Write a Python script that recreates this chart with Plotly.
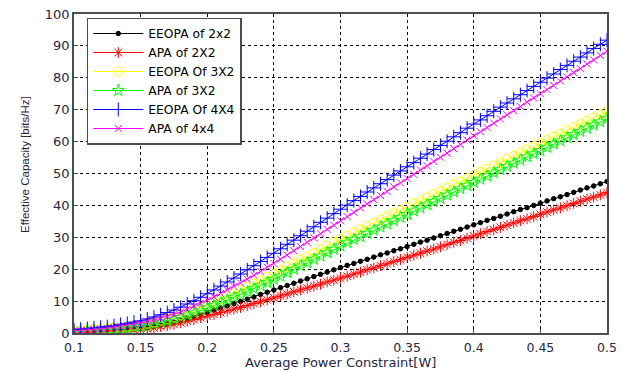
import plotly.graph_objects as go

power_w = [0.1, 0.105, 0.11, 0.115, 0.12, 0.125, 0.13, 0.135, 0.14, 0.145,
           0.15, 0.155, 0.16, 0.165, 0.17, 0.175, 0.18, 0.185, 0.19, 0.195,
           0.2, 0.205, 0.21, 0.215, 0.22, 0.225, 0.23, 0.235, 0.24, 0.245,
           0.25, 0.255, 0.26, 0.265, 0.27, 0.275, 0.28, 0.285, 0.29, 0.295,
           0.3, 0.305, 0.31, 0.315, 0.32, 0.325, 0.33, 0.335, 0.34, 0.345,
           0.35, 0.355, 0.36, 0.365, 0.37, 0.375, 0.38, 0.385, 0.39, 0.395,
           0.4, 0.405, 0.41, 0.415, 0.42, 0.425, 0.43, 0.435, 0.44, 0.445,
           0.45, 0.455, 0.46, 0.465, 0.47, 0.475, 0.48, 0.485, 0.49, 0.495,
           0.5]

eeopa_2x2 = [0.3, 0.4, 0.5, 0.5, 0.6, 0.7, 0.8, 1.0, 1.1, 1.3,
             1.4, 1.7, 2.1, 2.5, 2.9, 3.3, 3.9, 4.5, 5.2, 5.8,
             6.5, 7.2, 7.9, 8.5, 9.2, 9.9, 10.6, 11.3, 12.1, 12.8,
             13.5, 14.2, 14.9, 15.6, 16.3, 17.0, 17.7, 18.4, 19.1, 19.8,
             20.5, 21.2, 21.8, 22.5, 23.1, 23.8, 24.5, 25.1, 25.8, 26.4,
             27.1, 27.8, 28.5, 29.1, 29.8, 30.5, 31.2, 31.9, 32.5, 33.2,
             33.9, 34.6, 35.3, 35.9, 36.6, 37.3, 38.0, 38.7, 39.3, 40.0,
             40.7, 41.4, 42.1, 42.7, 43.4, 44.1, 44.8, 45.5, 46.1, 46.8,
             47.5]

apa_2x2 = [0.1, 0.2, 0.2, 0.3, 0.3, 0.4, 0.5, 0.6, 0.7, 0.9,
           1.0, 1.3, 1.6, 2.0, 2.3, 2.7, 3.2, 3.7, 4.2, 4.8,
           5.3, 5.8, 6.4, 6.9, 7.5, 8.0, 8.6, 9.2, 9.8, 10.4,
           11.0, 11.6, 12.2, 12.9, 13.5, 14.1, 14.7, 15.3, 16.0, 16.6,
           17.2, 17.8, 18.5, 19.1, 19.8, 20.4, 21.1, 21.7, 22.4, 23.0,
           23.7, 24.4, 25.0, 25.7, 26.3, 27.0, 27.7, 28.4, 29.0, 29.7,
           30.4, 31.1, 31.8, 32.4, 33.1, 33.8, 34.5, 35.2, 35.8, 36.5,
           37.2, 37.9, 38.6, 39.2, 39.9, 40.6, 41.3, 42.0, 42.6, 43.3,
           44.0]

eeopa_3x2 = [0.8, 0.9, 1.0, 1.2, 1.3, 1.4, 1.6, 1.8, 2.0, 2.3,
             2.5, 2.9, 3.4, 3.9, 4.4, 4.9, 5.6, 6.3, 7.1, 7.9,
             8.8, 9.7, 10.6, 11.5, 12.4, 13.4, 14.4, 15.5, 16.5, 17.6,
             18.6, 19.7, 20.8, 21.8, 22.9, 24.0, 25.1, 26.2, 27.3, 28.4,
             29.5, 30.5, 31.5, 32.5, 33.5, 34.5, 35.5, 36.5, 37.5, 38.5,
             39.5, 40.5, 41.5, 42.5, 43.5, 44.5, 45.5, 46.5, 47.5, 48.5,
             49.5, 50.5, 51.5, 52.5, 53.5, 54.5, 55.5, 56.5, 57.5, 58.5,
             59.5, 60.5, 61.5, 62.5, 63.5, 64.5, 65.5, 66.5, 67.5, 68.5,
             69.5]

apa_3x2 = [0.5, 0.6, 0.7, 0.8, 0.9, 1.0, 1.2, 1.4, 1.6, 1.8,
           2.0, 2.4, 2.8, 3.3, 3.7, 4.2, 4.9, 5.6, 6.3, 7.0,
           7.8, 8.6, 9.4, 10.3, 11.1, 12.0, 12.9, 13.9, 14.8, 15.8,
           16.8, 17.8, 18.9, 19.9, 21.0, 22.0, 23.1, 24.1, 25.2, 26.2,
           27.3, 28.3, 29.3, 30.2, 31.2, 32.2, 33.2, 34.2, 35.2, 36.2,
           37.2, 38.2, 39.2, 40.2, 41.2, 42.2, 43.2, 44.2, 45.2, 46.2,
           47.2, 48.2, 49.2, 50.2, 51.2, 52.2, 53.2, 54.2, 55.2, 56.2,
           57.2, 58.2, 59.2, 60.2, 61.2, 62.2, 63.2, 64.2, 65.2, 66.2,
           67.2]

eeopa_4x4 = [1.0, 1.2, 1.4, 1.6, 1.8, 2.0, 2.3, 2.7, 3.0, 3.4,
             3.8, 4.4, 5.0, 5.7, 6.4, 7.2, 8.1, 9.1, 10.1, 11.2,
             12.3, 13.5, 14.7, 16.0, 17.2, 18.5, 19.8, 21.1, 22.4, 23.7,
             25.0, 26.4, 27.8, 29.1, 30.5, 31.9, 33.3, 34.7, 36.0, 37.4,
             38.8, 40.1, 41.5, 42.8, 44.2, 45.5, 46.8, 48.1, 49.5, 50.8,
             52.1, 53.4, 54.8, 56.1, 57.5, 58.8, 60.1, 61.5, 62.8, 64.2,
             65.5, 66.8, 68.1, 69.5, 70.8, 72.1, 73.4, 74.7, 76.0, 77.3,
             78.6, 79.9, 81.2, 82.6, 83.9, 85.2, 86.5, 87.8, 89.2, 90.5,
             91.8]

apa_4x4 = [0.7, 0.8, 1.0, 1.2, 1.3, 1.5, 1.8, 2.1, 2.4, 2.7,
           3.0, 3.5, 4.0, 4.6, 5.2, 5.8, 6.6, 7.5, 8.4, 9.3,
           10.3, 11.3, 12.4, 13.5, 14.6, 15.7, 16.9, 18.1, 19.3, 20.6,
           21.8, 23.1, 24.4, 25.8, 27.1, 28.4, 29.8, 31.1, 32.5, 33.8,
           35.2, 36.5, 37.8, 39.2, 40.5, 41.8, 43.1, 44.4, 45.8, 47.1,
           48.4, 49.7, 51.1, 52.4, 53.8, 55.1, 56.4, 57.8, 59.1, 60.5,
           61.8, 63.1, 64.4, 65.8, 67.1, 68.4, 69.7, 71.0, 72.4, 73.7,
           75.0, 76.3, 77.6, 79.0, 80.3, 81.6, 82.9, 84.3, 85.6, 87.0,
           88.3]

series_names = ["EEOPA of 2x2", "APA of 2X2", "EEOPA Of 3X2",
                "APA of 3X2", "EEOPA Of 4X4", "APA of 4x4"]
series_values = [eeopa_2x2, apa_2x2, eeopa_3x2, apa_3x2, eeopa_4x4, apa_4x4]

x_ticks = [0.1, 0.15, 0.2, 0.25, 0.3, 0.35, 0.4, 0.45, 0.5]
x_tick_labels = ["0.1", "0.15", "0.2", "0.25", "0.3", "0.35", "0.4", "0.45", "0.5"]
y_ticks = [0, 10, 20, 30, 40, 50, 60, 70, 80, 90, 100]

styles = [
    dict(color="#000000", symbol="circle", size=4.5),
    dict(color="#ff0000", symbol="asterisk-open", size=9),
    dict(color="#ffff00", symbol="circle-open", size=9),
    dict(color="#00ff00", symbol="star-open", size=9),
    dict(color="#0000ff", symbol="cross-thin-open", size=10),
    dict(color="#ff00ff", symbol="x-thin-open", size=7),
]

fig = go.Figure()
for name, vals, st in zip(series_names, series_values, styles):
    marker = dict(symbol=st["symbol"], size=st["size"], color=st["color"],
                  line=dict(color=st["color"], width=1))
    fig.add_trace(go.Scatter(
        x=power_w, y=vals, name=name, mode="lines+markers",
        line=dict(color=st["color"], width=1),
        marker=marker,
    ))

TXT = "#262640"
common = dict(
    showline=True, linecolor="#4d4d4d", linewidth=1.5, mirror=True,
    showgrid=True, gridcolor="#000000", gridwidth=1, griddash="3px,3px",
    zeroline=False, ticks="inside", ticklen=4, tickcolor="#4d4d4d",
    automargin=False,
)

fig.update_xaxes(range=[0.1, 0.5], tickvals=x_ticks, ticktext=x_tick_labels,
                 ticklabelstandoff=2,
                 tickfont=dict(family="DejaVu Sans, Verdana, sans-serif", size=12.5, color=TXT),
                 **common)
fig.update_yaxes(range=[0, 100], tickvals=y_ticks,
                 tickfont=dict(family="DejaVu Sans, Verdana, sans-serif", size=13, color=TXT),
                 **common)

fig.add_annotation(
    text="Average Power Constraint[W]",
    xref="paper", yref="paper", x=0.5, y=-0.091,
    xanchor="center", yanchor="middle", showarrow=False,
    font=dict(family="DejaVu Sans, Verdana, sans-serif", size=13, color=TXT),
)
fig.add_annotation(
    text="Effective Capacity [bits/Hz]", textangle=-90,
    xref="paper", yref="paper", x=-0.092, y=0.53,
    xanchor="center", yanchor="middle", showarrow=False,
    font=dict(family="Liberation Sans, Arial, sans-serif", size=11.5, color=TXT),
)

fig.update_layout(
    width=626, height=372,
    margin=dict(l=74, r=19, t=14, b=39, pad=0, autoexpand=False),
    plot_bgcolor="white", paper_bgcolor="white",
    legend=dict(x=0.024, y=0.989, xanchor="left", yanchor="top",
                bgcolor="white", bordercolor="#4d4d4d", borderwidth=1.5,
                font=dict(family="DejaVu Sans, Verdana, sans-serif",
                          size=12.3, color="#000000"),
                itemwidth=50, tracegroupgap=0),
    showlegend=True,
)

fig.write_html("out.html")
